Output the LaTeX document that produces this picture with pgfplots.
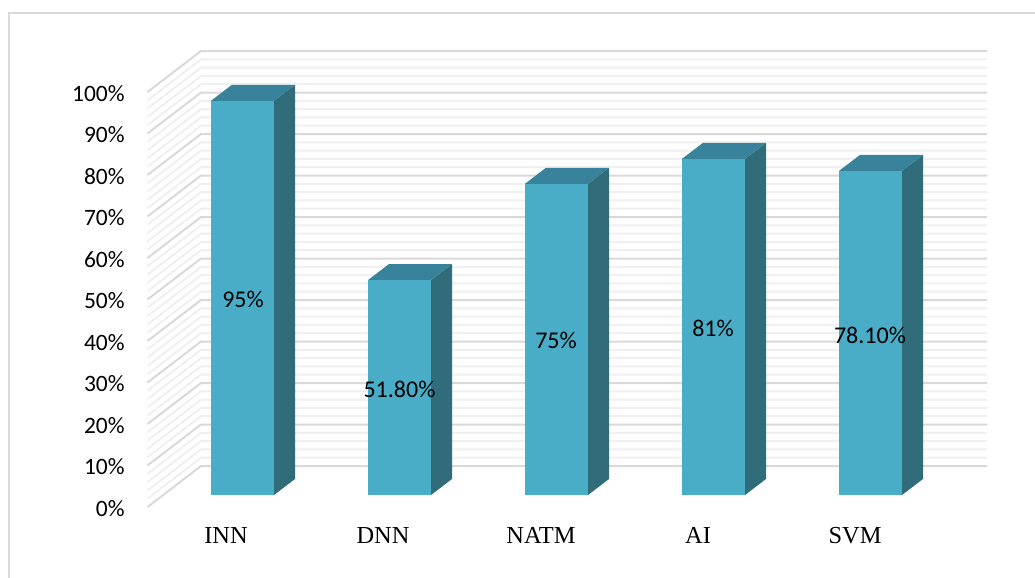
\documentclass[border=0pt]{standalone}
\usepackage{fontspec}
\setmainfont{Carlito}
\newfontfamily\timesf{Liberation Serif}
\usepackage{pgfplots}
\usepackage{pgfplotstable}
\pgfplotsset{compat=1.18}
\definecolor{front}{HTML}{4AADC8}
\definecolor{topc}{HTML}{38839B}
\definecolor{sidec}{HTML}{316C7B}
\definecolor{maj}{HTML}{D9D9D9}
\definecolor{minr}{HTML}{F0F0F0}
\pgfplotstableread[row sep=\\]{dx b c\\0 0 2.89\\63 0 2.89\\63 1 2.89\\0 1 2.89\\}\frontface
\pgfplotstableread[row sep=\\]{dx b c\\0 1 2.89\\63 1 2.89\\84 1 6.745\\21 1 6.745\\}\topface
\pgfplotstableread[row sep=\\]{dx b c\\63 0 2.89\\84 0 6.745\\84 1 6.745\\63 1 2.89\\}\sideface
\pgfplotstableread[row sep=\\]{x d\\147.5 0\\201 9.88\\987 9.88\\}\gridpath
\newcommand\barbox[2]{%
  \addplot[fill=sidec,draw=none,mark=none] table[x expr=#1+\thisrow{dx},y expr=\thisrow{b}*#2+\thisrow{c}]{\sideface};
  \addplot[fill=topc,draw=none,mark=none] table[x expr=#1+\thisrow{dx},y expr=\thisrow{b}*#2+\thisrow{c}]{\topface};
  \addplot[fill=front,draw=none,mark=none] table[x expr=#1+\thisrow{dx},y expr=\thisrow{b}*#2+\thisrow{c}]{\frontface};
}
\begin{document}
\begin{tikzpicture}
\path[use as bounding box] (0pt,0pt) rectangle (776.25pt,-433.5pt);
\draw[maj,line width=1.3pt] (6.75pt,-433.5pt) -- (6.75pt,-9.75pt) -- (776.25pt,-9.75pt);
\begin{axis}[
  at={(111pt,-380.25pt)},anchor=south west,
  scale only axis,width=629.25pt,height=311.25pt,
  xmin=148,xmax=987,ymin=0,ymax=100,clip=false,
  axis line style={draw=none},
  major tick length=0pt,
  xtick={226,383,541,698,855},
  xticklabels={INN,DNN,NATM,AI,SVM},
  x tick label style={font=\timesf\fontsize{18.3}{20}\selectfont,anchor=base,yshift=-27.5pt},
  ytick={0,10,...,100},
  yticklabel={\pgfmathprintnumber{\tick}\%},
  /pgf/number format/assume math mode=true,
  y tick label style={font=\fontsize{17.6}{20}\selectfont,anchor=east,xshift=-14pt,yshift=-1pt},
]
\pgfplotsinvokeforeach{2,4,6,8,12,14,16,18,22,24,26,28,32,34,36,38,42,44,46,48,52,54,56,58,62,64,66,68,72,74,76,78,82,84,86,88,92,94,96,98}{
  \addplot[minr,line width=1.5pt,mark=none] table[x=x,y expr=\thisrow{d}+#1]{\gridpath};
}
\pgfplotsinvokeforeach{0,10,...,100}{
  \addplot[maj,line width=1.5pt,mark=none] table[x=x,y expr=\thisrow{d}+#1]{\gridpath};
}
\barbox{211}{95}
\barbox{368}{51.8}
\barbox{525}{75}
\barbox{682}{81}
\barbox{839}{78.1}
\tikzset{vl/.style={font=\fontsize{18}{20}\selectfont,anchor=center}}
\node[vl] at (axis cs:243,50) {95\%};
\node[vl] at (axis cs:399.5,28.4) {51.80\%};
\node[vl] at (axis cs:556,40.2) {75\%};
\node[vl] at (axis cs:713,43) {81\%};
\node[vl] at (axis cs:870,41.3) {78.10\%};
\end{axis}
\end{tikzpicture}
\end{document}
